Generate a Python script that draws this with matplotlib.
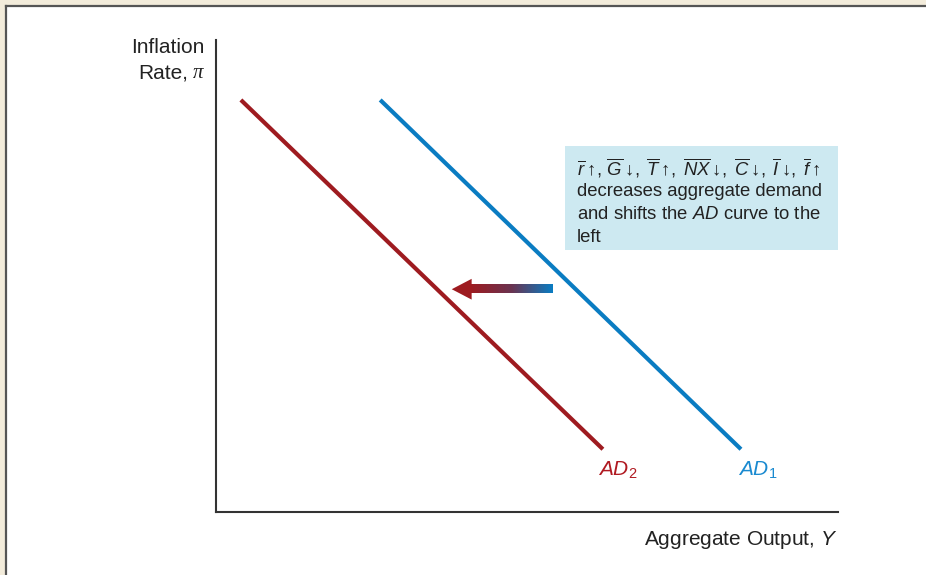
import numpy as np
import matplotlib as mpl
mpl.use('Agg')
import matplotlib.pyplot as plt
from matplotlib.patches import Rectangle, Polygon
from matplotlib.colors import LinearSegmentedColormap

plt.rcParams['font.family'] = ['Liberation Sans', 'DejaVu Sans']
plt.rcParams['mathtext.fontset'] = 'custom'
plt.rcParams['mathtext.rm'] = 'Liberation Sans'
plt.rcParams['mathtext.it'] = 'Liberation Sans:italic'

# curve endpoints (output, inflation) in chart units 0..10
ad1_x = [2.64, 8.44]
ad1_y = [8.73, 1.33]
ad2_x = [0.40, 6.22]
ad2_y = [8.73, 1.33]
# shift arrow: tail -> tip
shift_x = [5.42, 3.79]
shift_y = 4.72

box_lines = [r'$\overline{r}{\uparrow}\!,\,\overline{G}{\downarrow}\!,\;\overline{T}{\uparrow}\!,\;\overline{NX}{\downarrow}\!,\;\overline{C}{\downarrow}\!,\;\overline{I}{\downarrow}\!,\;\overline{f}{\uparrow}$',
             'decreases aggregate demand',
             r'and shifts the $AD$ curve to the',
             'left']

BLUE = '#0a7cc2'
RED = '#9e1b20'

fig = plt.figure(figsize=(9.26, 5.75), dpi=100, facecolor='#f3ecdb')
# white panel with grey border (top/left)
fig.add_artist(Rectangle((6/926, 0), 1, 1 - 6/575, transform=fig.transFigure,
                         facecolor='white', edgecolor='none', zorder=-10))
fig.add_artist(plt.Line2D([6/926, 1], [1 - 6/575]*2, transform=fig.transFigure, color='#555555', lw=1.6, zorder=-9))
fig.add_artist(plt.Line2D([6/926]*2, [0, 1 - 6/575], transform=fig.transFigure, color='#555555', lw=1.6, zorder=-9))

ax = fig.add_axes([216/926, 63/575, 622/926, 472/575])
ax.set_facecolor('none')
ax.set_xlim(0, 10)
ax.set_ylim(0, 10)
for s in ['top', 'right']:
    ax.spines[s].set_visible(False)
for s in ['left', 'bottom']:
    ax.spines[s].set_linewidth(1.5)
    ax.spines[s].set_color('#333333')
ax.set_xticks([])
ax.set_yticks([])

ax.plot(ad1_x, ad1_y, color=BLUE, lw=3, solid_capstyle='butt')
ax.plot(ad2_x, ad2_y, color=RED, lw=3, solid_capstyle='butt')

# gradient arrow
head_len = 0.32
head_half = 0.22
shaft_half = 0.085
grad = LinearSegmentedColormap.from_list('g', [RED, '#6a3350', BLUE])
ax.imshow(np.linspace(0, 1, 200)[None, :], cmap=grad, aspect='auto',
          extent=[shift_x[1] + head_len - 0.02, shift_x[0], shift_y - shaft_half, shift_y + shaft_half],
          zorder=3)
ax.add_patch(Polygon([[shift_x[1], shift_y], [shift_x[1] + head_len, shift_y + head_half],
                      [shift_x[1] + head_len, shift_y - head_half]], closed=True,
                     facecolor=RED, edgecolor='none', zorder=4))
ax.set_xlim(0, 10)
ax.set_ylim(0, 10)

# info box
ax.add_patch(Rectangle((5.61, 5.55), 4.39, 2.20, facecolor='#cde9f1', edgecolor='none',
                       clip_on=False, zorder=1))
for i, line in enumerate(box_lines):
    ax.text(5.80, 7.28 - i * 0.487, line, fontsize=13.3, color='#222222',
            ha='left', va='center', zorder=2)

# curve labels
ax.text(6.14, 0.89, r'$AD_2$', color='#b01a22', fontsize=15, ha='left', va='center')
ax.text(8.39, 0.89, r'$AD_1$', color='#1a8ad0', fontsize=15, ha='left', va='center')

# axis labels
ax.text(10.0, -0.59, r'Aggregate Output, $Y$', fontsize=15, color='#222222',
        ha='right', va='center', clip_on=False)
ax.text(-0.18, 9.85, 'Inflation', fontsize=15, color='#222222', ha='right', va='center', clip_on=False)
ax.text(-0.45, 9.30, 'Rate,', fontsize=15, color='#222222', ha='right', va='center', clip_on=False)
ax.text(-0.37, 9.30, 'π', fontsize=15, color='#222222', ha='left', va='center',
        family='Liberation Serif', style='italic', clip_on=False)

fig.savefig('out.png', dpi=100, facecolor=fig.get_facecolor())
